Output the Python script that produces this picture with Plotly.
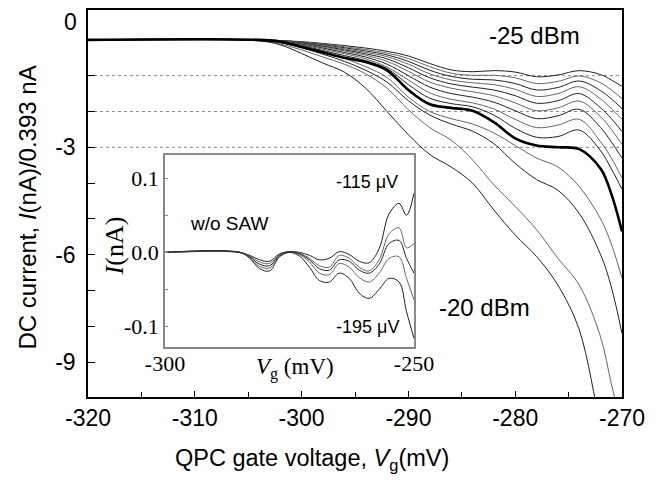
import plotly.graph_objects as go

# ---------- datos del panel principal (I / 0.393 nA vs Vg) ----------
vg = [-320, -304, -302, -300, -298, -296, -294, -292, -290, -288,
      -286, -284, -282, -280, -278, -276, -274, -272, -271, -270]

# curvas de -25 dBm (arriba) a -20 dBm (abajo)
t1 = [0, 0, -0.02, -0.05, -0.10, -0.16, -0.23, -0.32, -0.45, -0.66, -0.84, -0.89, -0.86, -0.90, -1.03, -0.98, -0.86, -0.97, -1.12, -1.30]
t2 = [0, 0, -0.02, -0.06, -0.12, -0.19, -0.27, -0.37, -0.52, -0.75, -0.93, -0.99, -0.99, -1.06, -1.22, -1.16, -1.01, -1.20, -1.40, -1.64]
t3 = [0, 0, -0.02, -0.07, -0.14, -0.22, -0.31, -0.42, -0.60, -0.85, -1.02, -1.10, -1.12, -1.22, -1.40, -1.33, -1.15, -1.42, -1.65, -1.92]
t4 = [0, 0, -0.03, -0.08, -0.16, -0.25, -0.35, -0.47, -0.68, -0.95, -1.12, -1.20, -1.25, -1.38, -1.58, -1.50, -1.31, -1.65, -1.92, -2.22]
t5 = [0, 0, -0.03, -0.09, -0.18, -0.28, -0.39, -0.53, -0.78, -1.06, -1.23, -1.32, -1.40, -1.56, -1.77, -1.70, -1.50, -1.90, -2.20, -2.56]
t6 = [0, 0, -0.03, -0.10, -0.20, -0.31, -0.43, -0.60, -0.88, -1.18, -1.35, -1.45, -1.56, -1.76, -1.98, -1.90, -1.71, -2.15, -2.50, -2.92]
t7 = [0, 0, -0.04, -0.12, -0.23, -0.35, -0.48, -0.68, -1.00, -1.32, -1.50, -1.60, -1.74, -1.98, -2.20, -2.12, -1.94, -2.45, -2.85, -3.30]
t8 = [0, 0, -0.04, -0.14, -0.26, -0.39, -0.53, -0.76, -1.12, -1.48, -1.66, -1.76, -1.93, -2.22, -2.45, -2.38, -2.22, -2.85, -3.30, -3.86]
t9 = [0, 0, -0.05, -0.16, -0.30, -0.44, -0.58, -0.80, -1.25, -1.63, -1.78, -1.87, -2.10, -2.47, -2.72, -2.70, -2.52, -3.10, -3.60, -4.17]
negrita = [0, 0, -0.05, -0.20, -0.35, -0.50, -0.62, -0.85, -1.40, -1.80, -1.90, -1.98, -2.30, -2.75, -2.95, -3.00, -3.05, -3.60, -4.30, -5.35]
c4 = [0, 0, -0.06, -0.18, -0.34, -0.52, -0.75, -1.05, -1.60, -2.00, -2.20, -2.35, -2.60, -2.95, -3.30, -3.55, -4.10, -5.00, -5.70, -6.65]
c3 = [0, -0.01, -0.08, -0.22, -0.40, -0.60, -0.85, -1.18, -1.70, -2.10, -2.35, -2.55, -2.90, -3.45, -3.90, -4.20, -4.85, -6.00, -6.90, -8.20]
c2 = [0, -0.02, -0.12, -0.28, -0.48, -0.68, -0.95, -1.35, -1.95, -2.45, -2.80, -3.35, -4.05, -4.65, -5.30, -6.10, -6.85, -8.30, -9.60, -10.8]
c1 = [0, -0.03, -0.14, -0.38, -0.65, -0.90, -1.35, -2.00, -2.65, -3.20, -3.55, -4.00, -4.75, -5.45, -6.05, -6.85, -8.10, -10.8, -12.0, -13.0]

curvas = [t1, t2, t3, t4, t5, t6, t7, t8, t9, c4, c3, c2, c1]
niveles = [-1, -2, -3]

# ticks
x_ticks = [-320, -310, -300, -290, -280, -270]
x_labels = ["-320", "-310", "-300", "-290", "-280", "-270"]
y_ticks = [-9, -6, -3]
y_labels = ["-9", "-6", "-3"]

# ---------- datos del inset (sin SAW) ----------
vg_inset = [-300, -285, -283, -281, -279, -277, -275, -273, -271, -269,
            -267, -265, -263, -261, -259, -257, -255, -253, -251.5, -250]
i_115 = [0, 0, -0.004, -0.010, -0.012, -0.002, 0.001, 0.000, -0.004, -0.010, -0.008, 0.001, -0.003, -0.012, -0.014, 0.005, 0.052, 0.066, 0.050, 0.080]
i_135 = [0, 0, -0.005, -0.013, -0.015, -0.003, 0.001, -0.001, -0.008, -0.018, -0.020, -0.004, -0.008, -0.020, -0.025, -0.010, 0.025, 0.033, 0.006, 0.012]
i_155 = [0, 0, -0.006, -0.016, -0.018, -0.004, 0.001, -0.002, -0.010, -0.022, -0.024, -0.010, -0.012, -0.024, -0.028, -0.016, 0.012, 0.016, -0.008, -0.028]
i_175 = [0, 0, -0.007, -0.019, -0.021, -0.005, 0.000, -0.003, -0.013, -0.028, -0.030, -0.015, -0.020, -0.034, -0.040, -0.028, -0.008, -0.006, -0.035, -0.064]
i_195 = [0, 0, -0.008, -0.022, -0.025, -0.006, 0.000, -0.005, -0.020, -0.038, -0.040, -0.028, -0.035, -0.055, -0.062, -0.050, -0.035, -0.040, -0.080, -0.116]
curvas_inset = [i_115, i_135, i_155, i_175, i_195]

FUENTE = "Liberation Sans, Arial, sans-serif"
TIMES = "Liberation Serif, Times New Roman, serif"

fig = go.Figure()

# líneas punteadas de los plateaus
for n in niveles:
    fig.add_shape(type="line", xref="x", yref="y", x0=-320, x1=-270, y0=n, y1=n,
                  line=dict(color="#888", width=1, dash="dot"), layer="below")

for k, yy in enumerate(curvas):
    fig.add_trace(go.Scatter(x=vg, y=yy, mode="lines", line_shape="spline",
                             line=dict(color="#222" if k % 2 == 0 else "#666", width=1),
                             showlegend=False, hoverinfo="skip"))

fig.add_trace(go.Scatter(x=vg, y=negrita, mode="lines", line_shape="spline",
                         line=dict(color="black", width=2.6),
                         showlegend=False, hoverinfo="skip"))

for k, yy in enumerate(curvas_inset):
    fig.add_trace(go.Scatter(x=vg_inset, y=yy, xaxis="x2", yaxis="y2", mode="lines",
                             line_shape="spline",
                             line=dict(color="#222" if k % 2 == 0 else "#666", width=1),
                             showlegend=False, hoverinfo="skip"))

# la página añade 8 px de margen al body: se compensa aquí
fig.update_layout(
    width=670, height=481,
    margin=dict(l=80, r=56, t=0, b=92),
    paper_bgcolor="white", plot_bgcolor="white",
    font=dict(family=FUENTE, size=23, color="black"),
    xaxis=dict(domain=[0, 1], range=[-320, -270], tickvals=x_ticks, ticktext=x_labels,
               ticks="inside", ticklen=6, tickwidth=1.2, tickcolor="black",
               minor=dict(tick0=-315, dtick=10, ticks="inside", ticklen=5,
                          tickwidth=1.2, tickcolor="black", showgrid=False),
               showline=True, linecolor="black", linewidth=1.5, mirror=True,
               showgrid=False, zeroline=False, tickfont=dict(size=23)),
    yaxis=dict(domain=[0, 1], range=[-9.972, 0.833], tickvals=y_ticks, ticktext=y_labels,
               ticks="inside", ticklen=7, tickwidth=1.2, tickcolor="black",
               minor=dict(tick0=0, dtick=1, ticks="inside", ticklen=7,
                          tickwidth=1.2, tickcolor="black", showgrid=False),
               showline=True, linecolor="black", linewidth=1.5, mirror=True,
               showgrid=False, zeroline=False, tickfont=dict(size=23),
               ticklabelstandoff=6),
    xaxis2=dict(domain=[0.1442, 0.6105], anchor="y2", range=[-300, -250],
                tickvals=[-300, -250], ticktext=["-300", "-250"], ticks="",
                showline=True, linecolor="#888", linewidth=1.5, mirror=True,
                showgrid=False, zeroline=False, ticklabelstandoff=-4,
                tickfont=dict(family=TIMES, size=22)),
    yaxis2=dict(domain=[0.1285, 0.6247], anchor="x2", range=[-0.128, 0.131],
                tickvals=[-0.1, 0, 0.1], ticktext=["-0.1", "0.0", "0.1"],
                ticks="inside", ticklen=3, tickcolor="#888",
                minor=dict(tick0=0.05, dtick=0.1, ticks="inside", ticklen=3,
                           tickcolor="#888", showgrid=False),
                showline=True, linecolor="#888", linewidth=1.5, mirror=True,
                showgrid=False, zeroline=False,
                tickfont=dict(family=TIMES, size=22)),
)

anotaciones = [
    dict(text="DC current, <i>I</i>(nA)/0.393 nA", x=-0.114, y=0.490, textangle=-90, size=24, fam=FUENTE),
    dict(text="QPC gate voltage, <i>V</i><sub>g</sub>(mV)", x=0.4195, y=-0.162, textangle=0, size=23.5, fam=FUENTE),
    dict(text="0", x=-0.032, y=0.968, textangle=0, size=23, fam=FUENTE),
    dict(text="-25 dBm", x=0.837, y=0.933, textangle=0, size=24, fam=FUENTE),
    dict(text="-20 dBm", x=0.7416, y=0.231, textangle=0, size=24, fam=FUENTE),
    dict(text="<i>I</i>(nA)", x=0.050, y=0.391, textangle=-90, size=26, fam=TIMES),
    dict(text="<i>V</i><sub>g</sub> (mV)", x=0.3876, y=0.0746, textangle=0, size=23, fam=TIMES),
]
for a in anotaciones:
    fig.add_annotation(text=a["text"], xref="paper", yref="paper", x=a["x"], y=a["y"],
                       textangle=a["textangle"], showarrow=False,
                       xanchor="center", yanchor="middle",
                       font=dict(family=a["fam"], size=a["size"], color="black"))

for txt, xx, yy, sz in [("w/o SAW", -287.1, 0.039, 19),
                        ("-115 \u03bcV", -259.4, 0.095, 18),
                        ("-195 \u03bcV", -259.4, -0.100, 18)]:
    fig.add_annotation(text=txt, xref="x2", yref="y2", x=xx, y=yy, showarrow=False,
                       xanchor="center", yanchor="middle",
                       font=dict(family=FUENTE, size=sz, color="black"))

fig.write_html("out.html")
